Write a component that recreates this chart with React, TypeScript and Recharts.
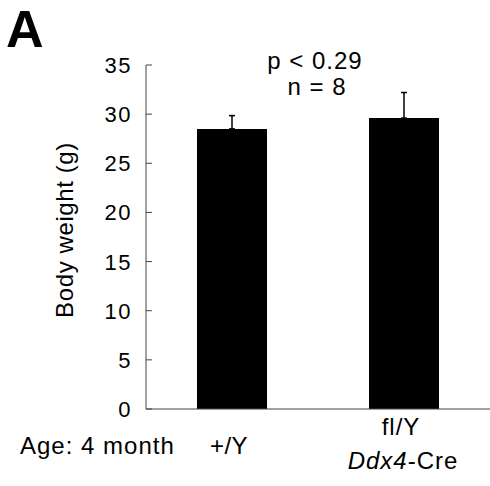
import React from 'react';
import { BarChart, Bar, XAxis, YAxis, ErrorBar, Customized } from 'recharts';

const categories = ['+/Y', 'fl/Y|Ddx4-Cre'];
const means = [28.5, 29.6];
const errors = [1.35, 2.6];
const yTicks = [0, 5, 10, 15, 20, 25, 30, 35];
const annotation = ['p < 0.29', 'n = 8'];

const data = categories.map((c, i) => ({ name: c, value: means[i], err: [0, errors[i]] }));

const FONT = '"Liberation Sans", Arial, Helvetica, sans-serif';

const YTick = (props: any) => {
  const { x, y, payload } = props;
  return (
    <g>
      <line x1={x + 15} y1={y} x2={x + 21} y2={y} stroke="#444" strokeWidth={1} />
      <text x={x + 1} y={y} dy={8} textAnchor="end" fontSize={22} letterSpacing={1.5} fontFamily={FONT} fill="#000">
        {payload.value}
      </text>
    </g>
  );
};

const XTick = (props: any) => {
  const { x, y, payload } = props;
  const v: string = payload.value;
  if (v.includes('|')) {
    return (
      <g>
        <text x={x - 3} y={y + 26} textAnchor="middle" fontSize={24} letterSpacing={1} fontFamily={FONT} fill="#000">fl/Y</text>
        <text x={x - 1} y={y + 60} textAnchor="middle" fontSize={24} letterSpacing={1} fontFamily={FONT} fill="#000">
          <tspan fontStyle="italic">Ddx4</tspan>
          <tspan>-Cre</tspan>
        </text>
      </g>
    );
  }
  return (
    <text x={x - 3} y={y + 45} textAnchor="middle" fontSize={24} letterSpacing={0.5} fontFamily={FONT} fill="#000">{v}</text>
  );
};

const Extras = () => (
  <g>
    <text x={6} y={47} fontSize={52} fontWeight="bold" fontFamily={FONT} fill="#000">A</text>
    <text x={73} y={230} transform="rotate(-90 73 230)" textAnchor="middle" fontSize={24} letterSpacing={0.6} fontFamily={FONT} fill="#000">Body weight (g)</text>
    <text x={20} y={454} fontSize={24} letterSpacing={1} fontFamily={FONT} fill="#000">Age: 4 month</text>
    <text x={315} y={69} textAnchor="middle" fontSize={24} letterSpacing={1} fontFamily={FONT} fill="#000">{annotation[0]}</text>
    <text x={317} y={95} textAnchor="middle" fontSize={24} letterSpacing={1} fontFamily={FONT} fill="#000">{annotation[1]}</text>
  </g>
);

export default function App() {
  return (
    <div style={{ position: 'absolute', left: 0, top: 0, background: '#fff' }}>
      <BarChart width={490} height={486} data={data} margin={{ top: 65, right: 0, bottom: 17, left: 0 }}>
        <XAxis
          dataKey="name"
          height={60}
          tickLine={false}
          tickSize={0}
          tickMargin={0}
          axisLine={{ stroke: '#444', strokeWidth: 1 }}
          tick={<XTick />}
          interval={0}
        />
        <YAxis
          width={146}
          domain={[0, 35]}
          ticks={yTicks}
          tickLine={false}
          tickSize={0}
          tickMargin={15}
          axisLine={{ stroke: '#444', strokeWidth: 1 }}
          tick={<YTick />}
          interval={0}
        />
        <Bar dataKey="value" fill="#000" barSize={70} isAnimationActive={false}>
          <ErrorBar dataKey="err" width={3} stroke="#000" strokeWidth={1.5} direction="y" />
        </Bar>
        <Customized component={Extras} />
      </BarChart>
    </div>
  );
}
